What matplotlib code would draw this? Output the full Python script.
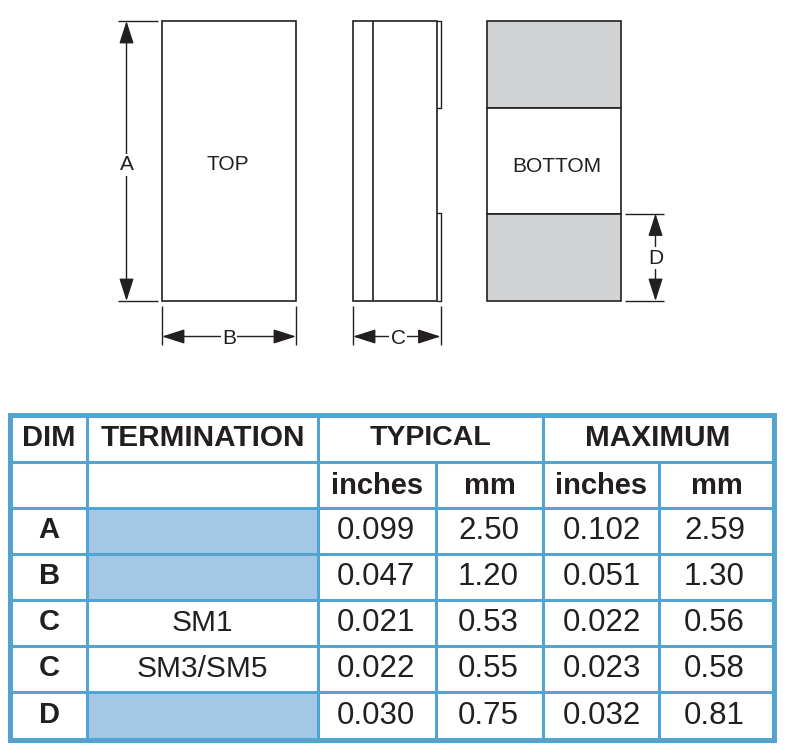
import matplotlib
matplotlib.use('Agg')
import matplotlib.pyplot as plt
from matplotlib.patches import Rectangle

plt.rcParams['font.family'] = ['Liberation Sans', 'DejaVu Sans']

# table data
dims = ['A', 'B', 'C', 'C', 'D']
terminations = ['', '', 'SM1', 'SM3/SM5', '']
typ_inches = ['0.099', '0.047', '0.021', '0.022', '0.030']
typ_mm = ['2.50', '1.20', '0.53', '0.55', '0.75']
max_inches = ['0.102', '0.051', '0.022', '0.023', '0.032']
max_mm = ['2.59', '1.30', '0.56', '0.58', '0.81']
sub_headers = ['inches', 'mm', 'inches', 'mm']

ink = '#231f20'
blue = '#54a4d2'
shade = '#a3c8e6'
grey = '#d1d3d4'

fig = plt.figure(figsize=(7.87, 7.54), dpi=100)
ax = fig.add_axes([0, 0, 1, 1])
ax.set_xlim(0, 787)
ax.set_ylim(754, 0)
ax.axis('off')


def box(x0, y0, x1, y1, fc='white', lw=1.2):
    ax.add_patch(Rectangle((x0, y0), x1 - x0, y1 - y0, fc=fc, ec=ink, lw=lw))


def line(xs, ys, lw=1.0):
    ax.plot(xs, ys, color=ink, lw=lw, solid_capstyle='butt')


def dim_arrow(x0, y0, x1, y1):
    ax.annotate('', xy=(x1, y1), xytext=(x0, y0),
                arrowprops=dict(arrowstyle='<|-|>,head_length=1.0,head_width=0.32',
                                color=ink, lw=1.0, shrinkA=0, shrinkB=0,
                                mutation_scale=14))


def dim_label(x, y, s):
    ax.text(x, y, s, fontsize=15, color=ink, ha='center', va='center',
            bbox=dict(fc='white', ec='none', pad=1.0))


# top view
box(162, 21, 296, 301)
ax.text(228, 164.5, 'TOP', fontsize=15, color=ink, ha='center', va='center')
line([118, 158], [21, 21])
line([118, 158], [301, 301])
dim_arrow(126.5, 21, 126.5, 301)
dim_label(126.5, 165, 'A')
line([162, 162], [306, 345])
line([296, 296], [306, 345])
dim_arrow(162, 336.5, 296, 336.5)
dim_label(229, 339, 'B')

# side view
box(353, 21, 437, 301)
line([373, 373], [21, 301], 1.2)
line([437, 440.5, 440.5, 437], [21, 21, 108, 108], 1.0)
line([437, 440.5, 440.5, 437], [213, 213, 301, 301], 1.0)
line([353, 353], [306, 345])
line([440.5, 440.5], [306, 345])
dim_arrow(353, 336.5, 440.5, 336.5)
dim_label(398, 339, 'C')

# bottom view
box(487, 21, 621, 108, fc=grey)
box(487, 108, 621, 214)
box(487, 214, 621, 301, fc=grey)
ax.text(557, 166, 'BOTTOM', fontsize=15, color=ink, ha='center', va='center')
line([625, 664], [213.5, 213.5])
line([625, 664], [301, 301])
dim_arrow(655.5, 213.5, 655.5, 301)
dim_label(655.5, 258, 'D')

# table grid
col_x = [9.5, 87, 318, 436, 543, 659, 774]
row_y = [414.5, 461.5, 508, 554, 600, 646, 692, 739.5]
col_mid = [(col_x[i] + col_x[i + 1]) / 2 for i in range(6)]
row_mid = [(row_y[i] + row_y[i + 1]) / 2 for i in range(7)]

for i, term in enumerate(terminations):
    if term == '':
        ax.add_patch(Rectangle((col_x[1], row_y[i + 2]), col_x[2] - col_x[1],
                               row_y[i + 3] - row_y[i + 2], fc=shade, ec='none'))

for y in row_y[1:-1]:
    ax.plot([col_x[0], col_x[-1]], [y, y], color=blue, lw=2.2, solid_capstyle='butt')
for i in [1, 2, 4]:
    ax.plot([col_x[i], col_x[i]], [row_y[0], row_y[-1]], color=blue, lw=2.2, solid_capstyle='butt')
for i in [3, 5]:
    ax.plot([col_x[i], col_x[i]], [row_y[1], row_y[-1]], color=blue, lw=2.2, solid_capstyle='butt')
ax.add_patch(Rectangle((col_x[0], row_y[0]), col_x[-1] - col_x[0], row_y[-1] - row_y[0],
                       fc='none', ec=blue, lw=3.6))

# table text
header_font = dict(fontsize=21, fontweight='bold', color=ink, ha='center', va='center_baseline')
ax.text(col_mid[0] + 1, row_mid[0] - 3, 'DIM', **header_font)
ax.text(col_mid[1] + 0.5, row_mid[0] - 3, 'TERMINATION', fontsize=21.4, fontweight='bold',
        color=ink, ha='center', va='center_baseline')
ax.text((col_x[2] + col_x[4]) / 2, row_mid[0] - 3, 'TYPICAL', fontsize=20.5, fontweight='bold',
        color=ink, ha='center', va='center_baseline')
ax.text((col_x[4] + col_x[6]) / 2 - 1, row_mid[0] - 3, 'MAXIMUM', fontsize=21.4, fontweight='bold',
        color=ink, ha='center', va='center_baseline')
for j, s in enumerate(sub_headers):
    ax.text(col_mid[j + 2], row_mid[1] - 2, s, **header_font)

body_font = dict(fontsize=22.5, color=ink, ha='center', va='center_baseline')
for i in range(len(dims)):
    y = row_mid[i + 2] - 3.5
    ax.text(col_mid[0] + 1, y, dims[i], **header_font)
    ax.text(col_mid[1], y + 0.5, terminations[i], fontsize=21.5, color=ink, ha='center', va='center_baseline')
    ax.text(col_mid[2] - 1, y, typ_inches[i], **body_font)
    ax.text(col_mid[3] - 1, y, typ_mm[i], **body_font)
    ax.text(col_mid[4] + 1, y, max_inches[i], **body_font)
    ax.text(col_mid[5] - 2, y, max_mm[i], **body_font)

plt.savefig('out.png', dpi=100)
